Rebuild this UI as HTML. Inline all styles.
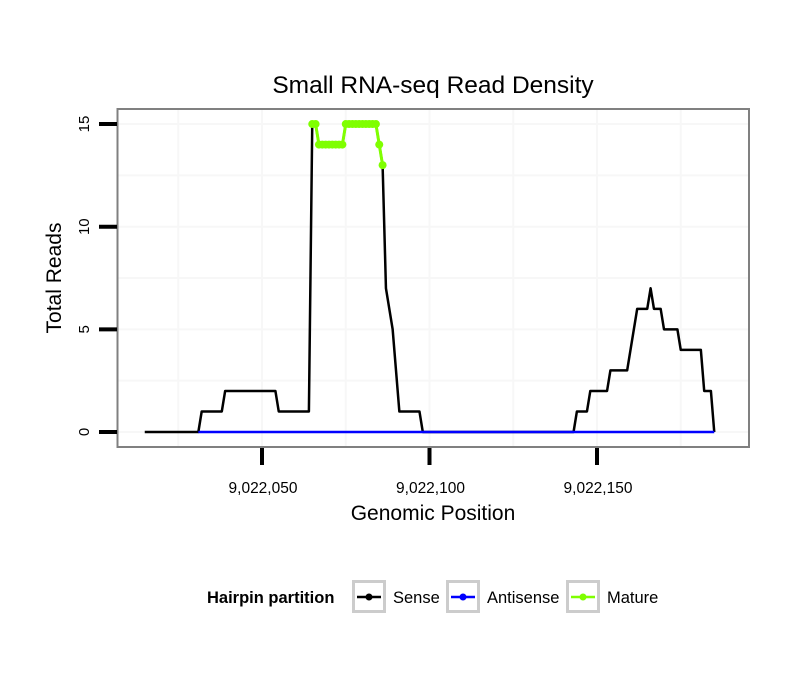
<!DOCTYPE html>
<html><head><meta charset="utf-8"><style>
body{margin:0;background:#fff;}
svg text{font-family:"Liberation Sans",sans-serif;}
</style></head><body>
<svg width="810" height="690" viewBox="0 0 810 690">
<text x="433" y="93" font-size="24.5" text-anchor="middle">Small RNA-seq Read Density</text>
<g id="grid"></g>
<g id="marks"></g>
<rect x="117.5" y="109" width="631.5" height="338" fill="none" stroke="#808080" stroke-width="2"/>
<g id="axes"></g>
<text x="433" y="520" font-size="21" text-anchor="middle">Genomic Position</text>
<text transform="translate(61,278) rotate(-90)" font-size="21" text-anchor="middle">Total Reads</text>
<g>
<text x="207" y="603" font-size="16.5" font-weight="bold">Hairpin partition</text>
<g><rect x="353.5" y="581.5" width="31" height="30" fill="#fff" stroke="#cccccc" stroke-width="3"/><line x1="357" y1="597" x2="381" y2="597" stroke="#000" stroke-width="2.5"/><circle cx="369" cy="597" r="3.5" fill="#000"/><text x="393" y="603" font-size="16.5">Sense</text></g>
<g><rect x="447.5" y="581.5" width="31" height="30" fill="#fff" stroke="#cccccc" stroke-width="3"/><line x1="451" y1="597" x2="475" y2="597" stroke="#0000ff" stroke-width="2.5"/><circle cx="463" cy="597" r="3.5" fill="#0000ff"/><text x="487" y="603" font-size="16.5">Antisense</text></g>
<g><rect x="567.5" y="581.5" width="31" height="30" fill="#fff" stroke="#cccccc" stroke-width="3"/><line x1="571" y1="597" x2="595" y2="597" stroke="#7fff00" stroke-width="2.5"/><circle cx="583" cy="597" r="3.5" fill="#7fff00"/><text x="607" y="603" font-size="16.5">Mature</text></g>
</g>
</svg>
<script>
const senseX=[9022015,9022031,9022032,9022038,9022039,9022054,9022055,9022064,9022065,9022066,9022067,9022074,9022075,9022084,9022085,9022086,9022087,9022089,9022091,9022097,9022098,9022143,9022144,9022147,9022148,9022153,9022154,9022159,9022162,9022165,9022166,9022167,9022169,9022170,9022174,9022175,9022181,9022182,9022184,9022185];
const senseY=[0,0,1,1,2,2,1,1,15,15,14,14,15,15,14,13,7,5,1,1,0,0,1,1,2,2,3,3,6,6,7,6,6,5,5,4,4,2,2,0];
const antiX=[9022031,9022185];
const antiY=[0,0];
const matureX=[9022065,9022066,9022067,9022068,9022069,9022070,9022071,9022072,9022073,9022074,9022075,9022076,9022077,9022078,9022079,9022080,9022081,9022082,9022083,9022084,9022085,9022086];
const matureY=[15,15,14,14,14,14,14,14,14,14,15,15,15,15,15,15,15,15,15,15,14,13];
const xTicks=[9022050,9022100,9022150];
const xTickLabels=["9,022,050","9,022,100","9,022,150"];
const yTicks=[0,5,10,15];
const yTickLabels=["0","5","10","15"];
const X=p=>262+(p-9022050)*3.35;
const Y=v=>432-v*20.53;
const NS="http://www.w3.org/2000/svg";
function mk(t,a,parent){const e=document.createElementNS(NS,t);for(const k in a)e.setAttribute(k,a[k]);parent.appendChild(e);return e;}
const grid=document.getElementById('grid'),marks=document.getElementById('marks'),axes=document.getElementById('axes');
[-2.5,0,2.5,5,7.5,10,12.5,15].forEach(v=>{const y=Y(v);if(y<110||y>446)return;
const g=mk('line',{x1:118,x2:748,y1:y,y2:y,stroke:'#f7f7f7','stroke-width':v%5===0?2:2},grid);

});
[9022025,9022050,9022075,9022100,9022125,9022150,9022175].forEach(p=>{const x=X(p);
const g=mk('line',{x1:x,x2:x,y1:110,y2:446,stroke:'#f7f7f7','stroke-width':2},grid);

});
function poly(xs,ys,col,name,w){const l=mk('polyline',{points:xs.map((p,i)=>X(p)+','+Y(ys[i])).join(' '),fill:'none',stroke:col,'stroke-width':w,'stroke-linejoin':'round'},marks);

}
poly(senseX,senseY,'#000','sense-line',2.5);
poly(antiX,antiY,'#0000ff','antisense-line',2.5);
poly(matureX,matureY,'#7fff00','mature-line',3);
matureX.forEach((p,i)=>{const c=mk('circle',{cx:X(p),cy:Y(matureY[i]),r:4,fill:'#7fff00'},marks);

});
xTicks.forEach((p,i)=>{const x=X(p);
const t=mk('line',{x1:x,x2:x,y1:448,y2:465,stroke:'#000','stroke-width':4},axes);


const l=mk('text',{x:x+1,y:493,'font-size':15.5,'text-anchor':'middle'},axes);l.textContent=xTickLabels[i];

});
yTicks.forEach((v,i)=>{const y=Y(v);
const t=mk('line',{x1:99,x2:117,y1:y,y2:y,stroke:'#000','stroke-width':4},axes);


const l=mk('text',{transform:`translate(89,${y}) rotate(-90)`,'font-size':15,'text-anchor':'middle'},axes);l.textContent=yTickLabels[i];

});
</script>
</body></html>
